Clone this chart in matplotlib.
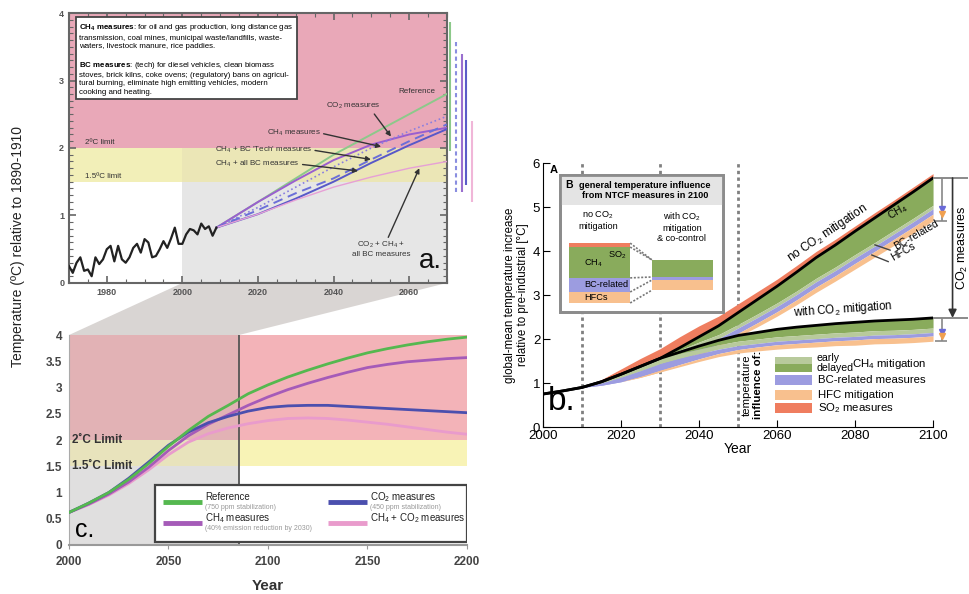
import matplotlib
matplotlib.use("Agg")
import matplotlib.pyplot as plt
import matplotlib.ticker as ticker
from matplotlib.patches import Rectangle, Polygon
import numpy as np

plt.rcParams['font.family'] = ['Liberation Sans', 'DejaVu Sans']
plt.rcParams['mathtext.fontset'] = 'custom'
plt.rcParams['mathtext.rm'] = 'Liberation Sans'
plt.rcParams['mathtext.bf'] = 'Liberation Sans:bold'
plt.rcParams['mathtext.default'] = 'regular'

# ---------------- panel a: observations 1970-2009 and projections to 2070
obs_years = list(range(1970, 2010))
obs_temp = [0.25, 0.15, 0.30, 0.38, 0.18, 0.20, 0.10, 0.38, 0.28, 0.35,
            0.50, 0.55, 0.32, 0.55, 0.35, 0.30, 0.38, 0.52, 0.58, 0.45,
            0.65, 0.60, 0.38, 0.40, 0.50, 0.62, 0.52, 0.66, 0.82, 0.58,
            0.58, 0.72, 0.80, 0.78, 0.72, 0.88, 0.80, 0.84, 0.70, 0.82]

proj_years = [2009, 2020, 2030, 2040, 2050, 2060, 2070]
proj_reference = [0.82, 1.20, 1.55, 1.90, 2.20, 2.50, 2.80]
proj_co2 = [0.82, 1.20, 1.52, 1.82, 2.05, 2.20, 2.30]
proj_ch4 = [0.82, 1.12, 1.42, 1.72, 2.00, 2.25, 2.47]
proj_ch4_bc_tech = [0.82, 1.08, 1.33, 1.55, 1.83, 2.10, 2.35]
proj_ch4_bc_all = [0.82, 1.02, 1.25, 1.50, 1.78, 2.04, 2.28]
proj_co2_ch4_bc = [0.82, 1.02, 1.23, 1.42, 1.57, 1.70, 1.80]

# uncertainty ranges in 2070 drawn to the right of panel a
range_pos = [2070.8, 2072.3, 2073.9, 2075.0, 2076.6]
range_low = [1.95, 1.35, 1.35, 1.45, 1.20]
range_high = [3.87, 3.60, 3.40, 3.30, 2.40]
range_colors = ['#8cc98a', '#8a8ee0', '#9a6fcf', '#5c5cc8', '#f0b6d8']
range_styles = ['-', (0, (2, 1.5)), '-', '-', '-']

# ---------------- panel c: long-term projections to 2200
years_c = list(range(2000, 2201, 10))
ref_c = [0.62, 0.80, 1.00, 1.25, 1.55, 1.88, 2.18, 2.45, 2.66, 2.88, 3.05,
         3.20, 3.33, 3.45, 3.56, 3.66, 3.74, 3.81, 3.87, 3.92, 3.96]
ch4_c = [0.62, 0.78, 0.97, 1.20, 1.48, 1.80, 2.08, 2.30, 2.48, 2.66, 2.82,
         2.96, 3.08, 3.19, 3.29, 3.38, 3.44, 3.49, 3.52, 3.55, 3.57]
co2_c = [0.62, 0.80, 1.00, 1.27, 1.58, 1.90, 2.15, 2.33, 2.45, 2.55, 2.62,
         2.65, 2.66, 2.66, 2.64, 2.62, 2.60, 2.58, 2.56, 2.54, 2.52]
ch4co2_c = [0.62, 0.77, 0.95, 1.17, 1.43, 1.72, 1.96, 2.12, 2.23, 2.31, 2.37,
            2.41, 2.42, 2.41, 2.38, 2.34, 2.30, 2.25, 2.20, 2.15, 2.11]

# ---------------- panel b: NTCF contributions with / without CO2 mitigation
years_b = list(range(2000, 2101, 5))
no_co2 = [0.75, 0.82, 0.90, 1.03, 1.20, 1.38, 1.56, 1.80, 2.05, 2.30, 2.60,
          2.90, 3.20, 3.52, 3.85, 4.14, 4.45, 4.75, 5.05, 5.35, 5.66]
with_co2 = [0.75, 0.82, 0.90, 1.03, 1.20, 1.38, 1.56, 1.70, 1.84, 1.97, 2.08,
            2.15, 2.22, 2.27, 2.31, 2.35, 2.38, 2.41, 2.43, 2.45, 2.48]
so2_nc = [0, 0, 0, 0.05, 0.12, 0.18, 0.22, 0.25, 0.25, 0.22, 0.20,
          0.18, 0.16, 0.15, 0.14, 0.13, 0.12, 0.12, 0.11, 0.11, 0.10]
ch4_late_nc = [0, 0, 0, 0, 0, 0, 0, 0.05, 0.12, 0.20, 0.27,
               0.33, 0.38, 0.43, 0.47, 0.50, 0.53, 0.56, 0.58, 0.60, 0.62]
ch4_early_nc = [0, 0, 0, 0.03, 0.07, 0.10, 0.12, 0.11, 0.10, 0.09, 0.08,
                0.08, 0.08, 0.08, 0.08, 0.08, 0.08, 0.08, 0.08, 0.08, 0.08]
bc_nc = [0, 0, 0, 0.05, 0.10, 0.13, 0.15, 0.15, 0.14, 0.13, 0.12,
         0.12, 0.12, 0.12, 0.12, 0.12, 0.12, 0.12, 0.12, 0.12, 0.12]
hfc_nc = [0, 0, 0, 0, 0, 0.02, 0.04, 0.05, 0.06, 0.07, 0.08,
          0.09, 0.10, 0.11, 0.12, 0.12, 0.13, 0.13, 0.14, 0.14, 0.15]
ch4_late_w = [0, 0, 0, 0, 0, 0, 0, 0.03, 0.07, 0.10, 0.13,
              0.15, 0.17, 0.19, 0.20, 0.21, 0.22, 0.22, 0.23, 0.23, 0.23]
ch4_early_w = [0, 0, 0, 0.03, 0.07, 0.10, 0.12, 0.11, 0.10, 0.10, 0.10,
               0.10, 0.10, 0.10, 0.10, 0.10, 0.10, 0.10, 0.10, 0.10, 0.10]
bc_w = [0, 0, 0, 0.05, 0.10, 0.13, 0.15, 0.14, 0.12, 0.10, 0.09,
        0.08, 0.08, 0.08, 0.08, 0.08, 0.08, 0.08, 0.08, 0.08, 0.08]
hfc_w = [0, 0, 0, 0, 0, 0.02, 0.04, 0.05, 0.06, 0.07, 0.08,
         0.09, 0.10, 0.10, 0.11, 0.11, 0.12, 0.12, 0.12, 0.12, 0.12]

# inset B: schematic 2100 stacks (HFCs, BC, CH4, SO2 from bottom)
inset_base = [2.82, 3.11]
inset_no_co2 = [0.25, 0.32, 0.70, 0.09]
inset_with_co2 = [0.23, 0.07, 0.39, 0.0]

LIMIT_2C, LIMIT_15C = 2.0, 1.5
SPLIT_C = 2085.4

C_SO2 = '#ef7d5f'
C_CH4_LATE = '#89ab5c'
C_CH4_EARLY = '#b8ca9c'
C_BC = '#9c9ce0'
C_HFC = '#f8c08e'

fig = plt.figure(figsize=(9.69, 5.94), dpi=100)

# ======================= panel a
ax_a = fig.add_axes([0.0712, 0.5236, 0.390, 0.4545])
ax_a.set_xlim(1970, 2070)
ax_a.set_ylim(0, 4)
ax_a.axhspan(LIMIT_2C, 4, color='#e9a8b8', lw=0, zorder=0)
ax_a.fill_between([1970, 2000], LIMIT_15C, LIMIT_2C, color='#f2efb8', lw=0, zorder=0)
ax_a.fill_between([2000, 2070], LIMIT_15C, LIMIT_2C, color='#ebe6b6', lw=0, zorder=0)
ax_a.fill_between([2000, 2070], 0, LIMIT_15C, color='#e6e6e6', lw=0, zorder=0)

ax_a.plot(obs_years, obs_temp, color='#222222', lw=1.6, zorder=4)
ax_a.plot(proj_years, proj_reference, color='#8cc98a', lw=1.4, zorder=3)
ax_a.plot(proj_years, proj_co2, color='#9a5fcf', lw=1.4, zorder=3)
ax_a.plot(proj_years, proj_ch4, color='#8a7ee0', lw=1.2, ls=':', zorder=3)
ax_a.plot(proj_years, proj_ch4_bc_tech, color='#6b6fd8', lw=1.4, ls=(0, (5, 3)), zorder=3)
ax_a.plot(proj_years, proj_ch4_bc_all, color='#5858c8', lw=1.4, zorder=3)
ax_a.plot(proj_years, proj_co2_ch4_bc, color='#e6a0d6', lw=1.0, zorder=3)

for xp, lo, hi, col, st in zip(range_pos, range_low, range_high, range_colors, range_styles):
    ax_a.vlines(xp, lo, hi, colors=col, linestyles=[st], lw=1.5, clip_on=False)

ax_a.xaxis.set_minor_locator(ticker.MultipleLocator(5))
ax_a.yaxis.set_major_locator(ticker.MultipleLocator(1))
ax_a.yaxis.set_minor_locator(ticker.MultipleLocator(0.1))
ax_a.set_xticks([1980, 2000, 2020, 2040, 2060])
ax_a.tick_params(which='both', direction='in', top=True, right=True, colors='#666666',
                 labelcolor='#555555', labelsize=6.5)
ax_a.tick_params(which='major', length=5, width=1.2)
ax_a.tick_params(which='minor', length=3, width=0.8)
for lab in ax_a.get_xticklabels() + ax_a.get_yticklabels():
    lab.set_fontweight('bold')
for sp in ax_a.spines.values():
    sp.set_color('#666666')
    sp.set_linewidth(1.5)

box_text = ("$\\mathbf{CH_4\\ measures}$: for oil and gas production, long distance gas\n"
            "transmission, coal mines, municipal waste/landfills, waste-\n"
            "waters, livestock manure, rice paddies.\n\n"
            "$\\mathbf{BC\\ measures}$: (tech) for diesel vehicles, clean biomass\n"
            "stoves, brick kilns, coke ovens; (regulatory) bans on agricul-\n"
            "tural burning, eliminate high emitting vehicles, modern\n"
            "cooking and heating.")
ax_a.text(0.027, 0.965, box_text, transform=ax_a.transAxes, fontsize=5.7,
          linespacing=1.25, va='top', ha='left', zorder=6,
          bbox=dict(boxstyle='square,pad=0.45', fc='white', ec='#444444', lw=1.3))

ax_a.text(1974.2, 2.03, '2ºC limit', fontsize=5.8, va='bottom', color='#333333')
ax_a.text(1974.2, 1.53, '1.5ºC limit', fontsize=5.8, va='bottom', color='#333333')
ax_a.text(2062, 2.82, 'Reference', fontsize=5.8, ha='center', color='#333333')

arrow_kw = dict(arrowstyle='-|>', color='#333333', lw=1.0, mutation_scale=7,
                shrinkA=0, shrinkB=0)
ax_a.annotate('CO$_2$ measures', xy=(2055.2, 2.17), xytext=(2045.2, 2.62),
              fontsize=5.8, ha='center', va='center', color='#333333',
              arrowprops=dict(arrow_kw, relpos=(0.85, 0.0)))
ax_a.annotate('CH$_4$ measures', xy=(2052.6, 2.02), xytext=(2029.5, 2.22),
              fontsize=5.8, ha='center', va='center', color='#333333',
              arrowprops=dict(arrow_kw, relpos=(1.0, 0.5)))
ax_a.annotate("CH$_4$ + BC 'Tech' measures", xy=(2049.9, 1.83), xytext=(2021.5, 1.97),
              fontsize=5.8, ha='center', va='center', color='#333333',
              arrowprops=dict(arrow_kw, relpos=(1.0, 0.5)))
ax_a.annotate('CH$_4$ + all BC measures', xy=(2046.5, 1.66), xytext=(2019.9, 1.76),
              fontsize=5.8, ha='center', va='center', color='#333333',
              arrowprops=dict(arrow_kw, relpos=(1.0, 0.5)))
ax_a.annotate('CO$_2$ + CH$_4$ +\nall BC measures', xy=(2062.7, 1.70), xytext=(2052.6, 0.50),
              fontsize=5.8, ha='center', va='center', color='#333333', linespacing=1.2,
              arrowprops=dict(arrow_kw, relpos=(0.6, 1.0)))
ax_a.text(0.955, 0.08, 'a.', transform=ax_a.transAxes, fontsize=20, ha='center',
          va='center', color='#111111')

# ======================= panel c
ax_c = fig.add_axes([0.0712, 0.0825, 0.4107, 0.3535])
ax_c.set_xlim(2000, 2200)
ax_c.set_ylim(0, 4)
ax_c.fill_between([2000, SPLIT_C], LIMIT_2C, 4, color='#e2b2b5', lw=0, zorder=0)
ax_c.fill_between([SPLIT_C, 2200], LIMIT_2C, 4, color='#f3b3b8', lw=0, zorder=0)
ax_c.fill_between([2000, SPLIT_C], LIMIT_15C, LIMIT_2C, color='#e8e3bc', lw=0, zorder=0)
ax_c.fill_between([SPLIT_C, 2200], LIMIT_15C, LIMIT_2C, color='#f8f3b6', lw=0, zorder=0)
ax_c.fill_between([2000, SPLIT_C], 0, LIMIT_15C, color='#e0dfdf', lw=0, zorder=0)
ax_c.axvline(SPLIT_C, color='#555555', lw=1.3, zorder=1)

ax_c.plot(years_c, ref_c, color='#55b84f', lw=2.0, zorder=4)
ax_c.plot(years_c, ch4_c, color='#a55bb8', lw=2.0, zorder=3)
ax_c.plot(years_c, co2_c, color='#4b4fae', lw=2.0, zorder=3)
ax_c.plot(years_c, ch4co2_c, color='#e99bcc', lw=2.0, zorder=2)

ax_c.text(2001.5, LIMIT_2C, '2˚C Limit', fontsize=8.5, fontweight='bold', color='#333333',
          va='center')
ax_c.text(2001.5, LIMIT_15C, '1.5˚C Limit', fontsize=8.5, fontweight='bold', color='#333333',
          va='center')

ax_c.yaxis.set_major_locator(ticker.MultipleLocator(0.5))
ax_c.yaxis.set_major_formatter(ticker.FuncFormatter(lambda v, _: f"{v:g}"))
ax_c.set_xticks([2000, 2050, 2100, 2150, 2200])
ax_c.tick_params(axis='both', colors='#999999', labelcolor='#444444', labelsize=8.5,
                 length=0, pad=5)
ax_c.tick_params(axis='x', length=3)
for lab in ax_c.get_xticklabels() + ax_c.get_yticklabels():
    lab.set_fontweight('bold')
for side in ['top', 'right']:
    ax_c.spines[side].set_visible(False)
ax_c.spines['left'].set_color('#aaaaaa')
ax_c.spines['bottom'].set_color('#999999')
ax_c.spines['bottom'].set_linewidth(1.5)
ax_c.set_xlabel('Year', fontsize=11, fontweight='bold', color='#333333', labelpad=8)
ax_c.text(0.04, 0.07, 'c.', transform=ax_c.transAxes, fontsize=18, ha='center',
          va='center', zorder=7)

ax_c.add_patch(Rectangle((0.216, 0.014), 0.784, 0.272, transform=ax_c.transAxes,
                         fc='white', ec='#444444', lw=1.6, zorder=6))
legend_c = [
    ('Reference', '(750 ppm stabilization)', '#55b84f', 0.236, 0.205),
    ('CH$_4$ measures', '(40% emission reduction by 2030)', '#a55bb8', 0.236, 0.105),
    ('CO$_2$ measures', '(450 ppm stabilization)', '#4b4fae', 0.651, 0.205),
    ('CH$_4$ + CO$_2$ measures', None, '#e99bcc', 0.651, 0.105),
]
for name, sub, col, lx, ly in legend_c:
    ax_c.plot([lx, lx + 0.098], [ly, ly], transform=ax_c.transAxes, color=col, lw=3.5,
              zorder=7, solid_capstyle='butt')
    ax_c.text(lx + 0.106, ly + 0.024, name, transform=ax_c.transAxes, fontsize=7,
              va='center', ha='left', color='#222222', zorder=7)
    if sub:
        ax_c.text(lx + 0.106, ly - 0.026, sub, transform=ax_c.transAxes, fontsize=5,
                  va='center', ha='left', color='#999999', zorder=7)

# grey wedge linking 2000-2070 of panel a with 2000-2085 of panel c
to_fig = fig.transFigure.inverted()
corners = [ax_a.transData.transform((2000, 0)), ax_a.transData.transform((2070, 0)),
           ax_c.transData.transform((SPLIT_C, 4)), ax_c.transData.transform((2000, 4))]
fig.add_artist(Polygon(to_fig.transform(corners), closed=True, transform=fig.transFigure,
                       fc='#d9d5d3', ec='none', zorder=-1))

fig.text(0.019, 0.585, 'Temperature (ºC) relative to 1890-1910', rotation=90,
         fontsize=10, ha='center', va='center', color='#222222')

# ======================= panel b
ax_b = fig.add_axes([0.5604, 0.2811, 0.4025, 0.4444])
ax_b.set_xlim(2000, 2100)
ax_b.set_ylim(0, 6)
ax_b.vlines([2010, 2030, 2050], 0, 6, colors='#808080', linestyles=[(0, (1.2, 1.2))],
            lw=2, zorder=1)

yb = np.array(years_b)


def stack_bands(base, layers, colors):
    top = np.array(base, dtype=float)
    for vals, col in zip(layers, colors):
        low = top - np.array(vals)
        ax_b.fill_between(yb, low, top, color=col, lw=0, zorder=2)
        top = low
    return top


nc = np.array(no_co2)
ax_b.fill_between(yb, nc, nc + np.array(so2_nc), color=C_SO2, lw=0, zorder=2)
band_colors = [C_CH4_LATE, C_CH4_EARLY, C_BC, C_HFC]
stack_bands(no_co2, [ch4_late_nc, ch4_early_nc, bc_nc, hfc_nc], band_colors)
stack_bands(with_co2, [ch4_late_w, ch4_early_w, bc_w, hfc_w], band_colors)
ax_b.plot(years_b, no_co2, color='black', lw=2.0, zorder=3)
ax_b.plot(years_b, with_co2, color='black', lw=2.0, zorder=3)

ax_b.set_xticks(range(2000, 2101, 20))
ax_b.set_yticks(range(0, 7))
ax_b.tick_params(direction='in', length=5, labelsize=9.5, pad=2)
for side in ['top', 'right']:
    ax_b.spines[side].set_visible(False)
ax_b.text(0.5, -0.083, 'Year', transform=ax_b.transAxes, fontsize=10, ha='center', va='center')
ax_b.text(-0.068, 0.5, 'global-mean temperature increase\nrelative to pre-industrial [°C]',
          transform=ax_b.transAxes, rotation=90, fontsize=8.3, ha='center', va='center',
          linespacing=1.15)
ax_b.text(0.018, 0.975, 'A', transform=ax_b.transAxes, fontsize=8, fontweight='bold',
          va='center')
ax_b.text(0.048, 0.095, 'b.', transform=ax_b.transAxes, fontsize=24, ha='center', va='center')

ax_b.text(2072.8, 4.41, 'no CO$_2$ mitigation', rotation=34, fontsize=8.5, ha='center',
          va='center', zorder=4)
ax_b.text(2076.9, 2.68, 'with CO$_2$ mitigation', rotation=4, fontsize=8.3, ha='center',
          va='center', zorder=4)
ax_b.text(2090.8, 4.89, 'CH$_4$', rotation=30, fontsize=7.5, ha='center', va='center', zorder=4)
ax_b.text(2095.6, 4.36, 'BC-related', rotation=30, fontsize=7.5, ha='center', va='center', zorder=4)
ax_b.text(2092.3, 3.98, 'HFCs', rotation=30, fontsize=7.5, ha='center', va='center', zorder=4)
ax_b.plot([2085.1, 2089.0], [4.14, 4.02], color='#444444', lw=1, zorder=4)
ax_b.plot([2084.3, 2088.5], [3.91, 3.76], color='#444444', lw=1, zorder=4)

# effect of CO2 measures and of the NTCF layers at 2100
end_nc, end_w = no_co2[-1], with_co2[-1]
ax_b.hlines([end_nc, end_w], 2100, 2109, colors='#777777', lw=1.2, clip_on=False)
ax_b.annotate('', xy=(2105.0, end_w), xytext=(2105.0, end_nc), annotation_clip=False,
              arrowprops=dict(arrowstyle='-|>', color='#333333', lw=1.2, mutation_scale=12,
                              shrinkA=0, shrinkB=0))
ax_b.text(2105.7, (end_nc + end_w) / 2, 'CO$_2$ measures', rotation=90, fontsize=9,
          ha='left', va='center')
for base, late, early, bc, hfc in [(end_nc, ch4_late_nc, ch4_early_nc, bc_nc, hfc_nc),
                                   (end_w, ch4_late_w, ch4_early_w, bc_w, hfc_w)]:
    lvl_bc = base - late[-1] - early[-1]
    lvl_hfc = lvl_bc - bc[-1]
    bottom = lvl_hfc - hfc[-1]
    ax_b.vlines(2102.3, bottom, base, colors='#888888', lw=1.2, clip_on=False)
    ax_b.hlines(bottom, 2100.5, 2103.7, colors='#888888', lw=1.2, clip_on=False)
    ax_b.plot([2102.3], [lvl_bc], marker='v', ms=5, color='#6a6ad8', clip_on=False, zorder=5)
    ax_b.plot([2102.3], [lvl_hfc], marker='v', ms=5, color='#f0a050', clip_on=False, zorder=5)

# legend of the bands
leg_rows = [
    (0.239, 0.026, C_CH4_EARLY), (0.208, 0.031, C_CH4_LATE), (0.159, 0.038, C_BC),
    (0.102, 0.038, C_HFC), (0.053, 0.038, C_SO2),
]
for y0, h, col in leg_rows:
    ax_b.add_patch(Rectangle((0.595, y0), 0.095, h, transform=ax_b.transAxes, fc=col,
                             ec='none', zorder=4))
ax_b.text(0.702, 0.262, 'early', transform=ax_b.transAxes, fontsize=7.6, va='center')
ax_b.text(0.702, 0.224, 'delayed', transform=ax_b.transAxes, fontsize=7.6, va='center')
ax_b.text(0.792, 0.240, 'CH$_4$ mitigation', transform=ax_b.transAxes, fontsize=8.2, va='center')
ax_b.text(0.705, 0.178, 'BC-related measures', transform=ax_b.transAxes, fontsize=8.2, va='center')
ax_b.text(0.705, 0.121, 'HFC mitigation', transform=ax_b.transAxes, fontsize=8.2, va='center')
ax_b.text(0.705, 0.072, 'SO$_2$ measures', transform=ax_b.transAxes, fontsize=8.2, va='center')
ax_b.text(0.523, 0.16, 'temperature', transform=ax_b.transAxes, fontsize=8.2, rotation=90,
          ha='center', va='center')
ax_b.text(0.552, 0.16, 'influence of:', transform=ax_b.transAxes, fontsize=8.2, rotation=90,
          ha='center', va='center', fontweight='bold')

# inset B: summary of 2100 contributions
ax_b.add_patch(Rectangle((2004.4, 2.61), 41.8, 3.12, fc='white', ec='#8c8c8c', lw=2,
                         zorder=6))
ax_b.add_patch(Rectangle((2004.4, 5.05), 41.8, 0.68, fc='#e4e4e4', ec='none', zorder=6))
ax_b.add_patch(Rectangle((2004.4, 2.61), 41.8, 3.12, fc='none', ec='#8c8c8c', lw=2,
                         zorder=8))
stack_colors = [C_HFC, C_BC, C_CH4_LATE, C_SO2]
edges = []
for base, parts, xc in [(inset_base[0], inset_no_co2, 2014.5),
                        (inset_base[1], inset_with_co2, 2035.75)]:
    ax_b.bar(xc, parts, width=15.7, bottom=base + np.concatenate([[0], np.cumsum(parts)[:-1]]),
             color=stack_colors, zorder=7)
    edges.append(base + np.concatenate([[0], np.cumsum(parts)]))
for yl, yr in zip(edges[0], edges[1]):
    ax_b.plot([2022.35, 2027.9], [yl, yr], color='#777777', lw=1.2, ls=(0, (1.2, 1)),
              zorder=7)
ax_b.text(2005.6, 5.50, 'B', fontsize=7.5, fontweight='bold', va='center', zorder=8)
ax_b.text(2026.2, 5.38, 'general temperature influence\nfrom NTCF measures in 2100',
          fontsize=6.6, fontweight='bold', ha='center', va='center', linespacing=1.15, zorder=8)
ax_b.text(2014.1, 4.70, 'no CO$_2$\nmitigation', fontsize=6.6, ha='center', va='center',
          linespacing=1.1, zorder=8)
ax_b.text(2035.6, 4.55, 'with CO$_2$\nmitigation\n& co-control', fontsize=6.6, ha='center',
          va='center', linespacing=1.1, zorder=8)
ax_b.text(2019.0, 3.91, 'SO$_2$', fontsize=6.6, ha='center', va='center', zorder=8)
ax_b.text(2012.8, 3.72, 'CH$_4$', fontsize=6.6, ha='center', va='center', zorder=8)
ax_b.text(2016.2, 3.23, 'BC-related', fontsize=6.6, ha='center', va='center', zorder=8)
ax_b.text(2013.6, 2.95, 'HFCs', fontsize=6.6, ha='center', va='center', zorder=8)

fig.savefig('out.png', dpi=100)
